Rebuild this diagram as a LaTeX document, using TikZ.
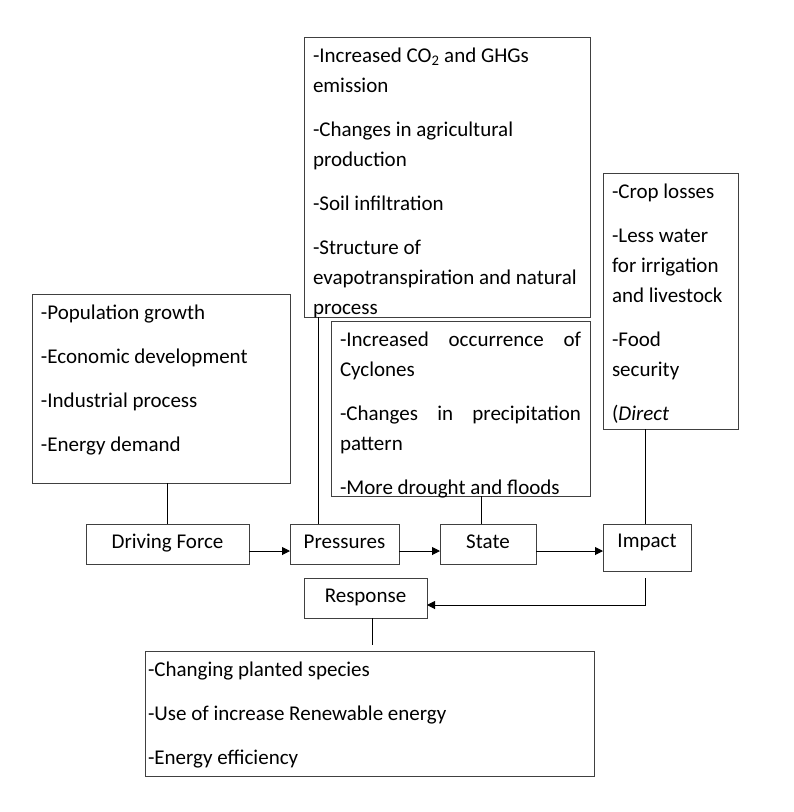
\documentclass[tikz,border=0pt]{standalone}
\usepackage{fontspec}
\setmainfont{Carlito}
\usetikzlibrary{arrows.meta}
\definecolor{boxgray}{gray}{0.25}
\newcommand{\mylistbox}[3]{\parbox[t][#2][t]{#1}{\fontsize{21}{30}\selectfont\raggedright\setlength{\parskip}{14pt}\rule{0pt}{16pt}#3}}
\begin{document}
\begin{tikzpicture}[x=1pt,y=1pt,
  listbox/.style={draw=boxgray, line width=1pt, inner xsep=9pt, inner ysep=9pt, outer sep=0pt, anchor=north west},
  smallbox/.style={draw=boxgray, line width=1pt, inner sep=0pt, outer sep=0pt, font=\fontsize{21}{25}\selectfont, text height=14pt, text depth=5pt},
  conn/.style={draw=black, line width=1pt},
  arr/.style={conn, -{Triangle[length=8pt,width=8pt]}}]
\useasboundingbox[fill=white] (0,0) rectangle (794,-812);

% list boxes
\node[listbox] (plist) at (304,-37) {\mylistbox{268pt}{262pt}{%
-Increased CO\textsubscript{2} and GHGs\\emission\par
-Changes in agricultural\\production\par
-Soil infiltration\par
-Structure of\\evapotranspiration and natural\\process}};

\node[listbox] (dlist) at (32,-294) {\mylistbox{240pt}{171pt}{%
-Population growth\par
-Economic development\par
-Industrial process\par
-Energy demand}};

\node[listbox] (slist) at (331,-321) {\mylistbox{241pt}{157pt}{%
\makebox[\linewidth][s]{-Increased occurrence of}\\Cyclones\par
\makebox[\linewidth][s]{-Changes in precipitation}\\pattern\par
-More drought and floods}};

\node[listbox] (ilist) at (603,-173) {\mylistbox{117pt}{238pt}{%
-Crop losses\par
-Less water\\for irrigation\\and livestock\par
-Food\\security\par
(\textit{Direct}}};

\node[listbox, inner xsep=3pt] (rlist) at (145,-651) {\mylistbox{443pt}{107pt}{%
-Changing planted species\par
-Use of increase Renewable energy\par
-Energy efficiency}};

% small boxes
\node[smallbox, minimum width=163pt, minimum height=40pt] (df) at (167.5,-544) {Driving Force};
\node[smallbox, minimum width=109pt, minimum height=40pt] (pr) at (344.5,-544) {Pressures};
\node[smallbox, minimum width=96pt, minimum height=40pt] (st) at (488,-544) {State};
\node[smallbox, minimum width=88pt, minimum height=47pt, text depth=14pt] (im) at (647,-547.5) {Impact};
\node[smallbox, minimum width=123pt, minimum height=40pt] (re) at (365.5,-598) {Response};

% connectors
\coordinate (ay) at (0,-551);
\draw[arr] (df.east |- ay) -- (pr.west |- ay);
\draw[arr] (pr.east |- ay) -- (st.west |- ay);
\draw[arr] (st.east |- ay) -- (im.west |- ay);

\draw[conn] (df.north) -- (df.north |- dlist.south);
\coordinate (prt) at ([xshift=28pt]pr.north west);
\draw[conn] (prt) -- (prt |- plist.south);
\coordinate (stt) at ([xshift=-7pt]st.north);
\draw[conn] (stt) -- (stt |- slist.south);
\coordinate (imt) at ([xshift=-2pt]im.north);
\draw[conn] (imt) -- (imt |- ilist.south);

\coordinate (imb) at ([xshift=-2pt]im.south);
\draw[arr, shorten <=7pt] (imb) |- ([yshift=-7pt]re.east);
\coordinate (reb) at ([xshift=6.5pt]re.south);
\draw[conn, shorten >=6pt] (reb) -- (reb |- rlist.north);
\end{tikzpicture}
\end{document}
